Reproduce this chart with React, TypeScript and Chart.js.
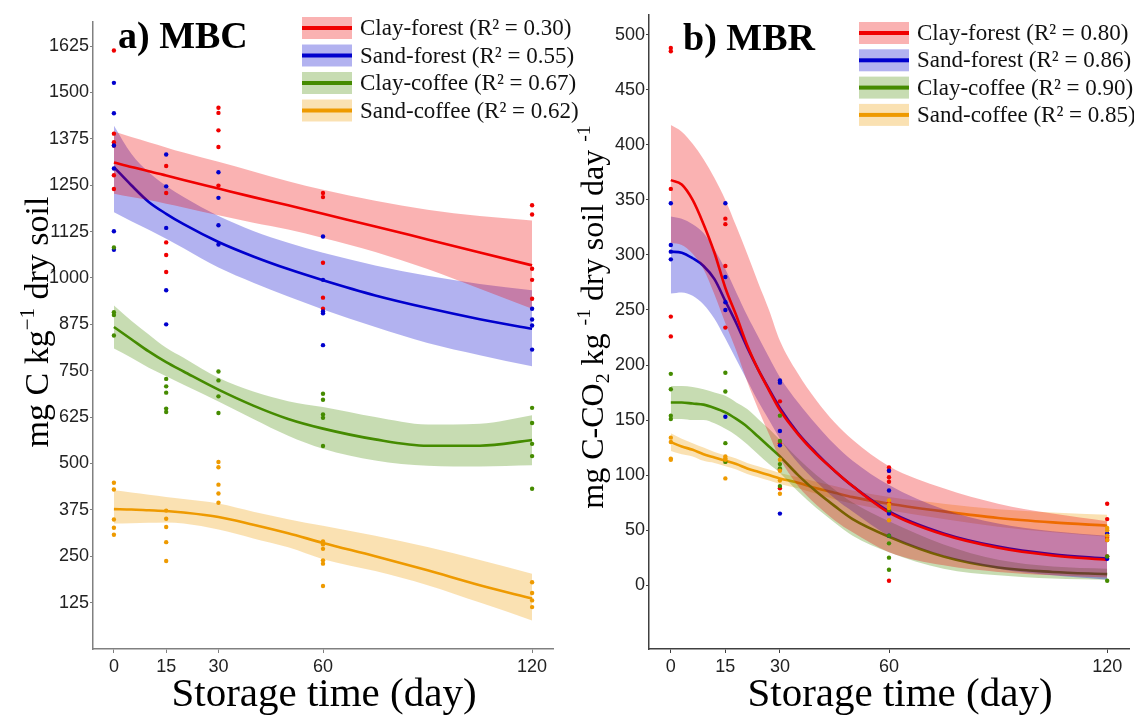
import React, { useEffect, useRef } from "react";
import { Chart, registerables } from "chart.js";

Chart.register(...registerables);

// ---- shared labels and styling ----
const SERIES = ["Clay-forest", "Sand-forest", "Clay-coffee", "Sand-coffee"];
const LINE_COLORS = ["#f00000", "#0000cd", "#458b00", "#ee9a00"];
const BAND_COLORS = [
  "rgba(240,0,0,0.3)",
  "rgba(0,0,205,0.3)",
  "rgba(69,139,0,0.3)",
  "rgba(238,154,0,0.3)",
];
const R2_MBC = ["0.30", "0.55", "0.67", "0.62"];
const R2_MBR = ["0.80", "0.86", "0.90", "0.85"];

const X_TICKS = [0, 15, 30, 60, 120];
const SAMPLE_DAYS = [0, 15, 30, 60, 120];
const MBC_TICKS = [125, 250, 375, 500, 625, 750, 875, 1000, 1125, 1250, 1375, 1500, 1625];
const MBR_TICKS = [0, 50, 100, 150, 200, 250, 300, 350, 400, 450, 500];

// ---- MBC observations (mg C kg-1), grouped by sampling day ----
const mbcClayForest = [
  [1613, 1389, 1366, 1357, 1277, 1240],
  [1302, 1229, 1096, 1062, 1016],
  [1459, 1445, 1398, 1353, 1249],
  [1229, 1218, 1041, 947, 917],
  [1196, 1171, 1025, 995, 944],
];
const mbcSandForest = [
  [1526, 1444, 1357, 1295, 1126, 1076],
  [1333, 1247, 1135, 967, 875],
  [1285, 1216, 1142, 1090],
  [1112, 995, 910, 905, 819],
  [917, 888, 872, 807],
];
const mbcClayCoffee = [
  [1082, 908, 900, 845],
  [728, 708, 691, 648, 639],
  [748, 724, 681, 636],
  [688, 672, 632, 623, 547],
  [650, 609, 553, 520, 432],
];
const mbcSandCoffee = [
  [448, 430, 349, 327, 308],
  [373, 351, 329, 288, 237],
  [504, 490, 443, 419, 394],
  [290, 282, 270, 239, 230, 170],
  [180, 151, 131, 113],
];

// ---- MBC fitted curves and confidence bands ----
const MBC_FIT_DAYS = [0, 5, 10, 15, 20, 30, 40, 50, 60, 75, 90, 105, 120];
const mbcClayForestFit = [1311, 1299, 1288, 1276, 1264, 1241, 1218, 1196, 1173, 1139, 1104, 1069, 1034];
const mbcClayForestHi = [1395, 1380, 1366, 1352, 1338, 1313, 1287, 1261, 1238, 1208, 1184, 1167, 1155];
const mbcClayForestLo = [1227, 1218, 1210, 1200, 1190, 1169, 1149, 1131, 1108, 1070, 1024, 971, 917];
const mbcSandForestFit = [1299, 1250, 1205, 1173, 1145, 1097, 1058, 1024, 994, 953, 919, 889, 863];
const mbcSandForestHi = [1411, 1335, 1285, 1248, 1218, 1167, 1127, 1095, 1068, 1034, 1006, 984, 967];
const mbcSandForestLo = [1177, 1153, 1130, 1106, 1080, 1028, 987, 950, 915, 868, 825, 792, 762];
const mbcClayCoffeeFit = [868, 835, 802, 773, 748, 699, 656, 620, 594, 565, 548, 548, 563];
const mbcClayCoffeeHi = [926, 885, 848, 812, 785, 731, 694, 668, 652, 625, 605, 607, 630];
const mbcClayCoffeeLo = [810, 785, 758, 735, 712, 667, 620, 575, 540, 508, 494, 492, 495];
const mbcSandCoffeeFit = [377, 376, 374, 372, 368, 356, 335, 312, 286, 250, 212, 172, 136];
const mbcSandCoffeeHi = [428, 422, 416, 410, 404, 392, 370, 350, 332, 305, 275, 240, 203];
const mbcSandCoffeeLo = [338, 339, 340, 341, 338, 322, 298, 274, 242, 210, 172, 125, 77];

// ---- MBR observations (mg C-CO2 kg-1 day-1), grouped by sampling day ----
const mbrClayForest = [
  [488, 485, 360, 244, 226],
  [333, 328, 290, 234],
  [167, 129, 105, 88],
  [107, 104, 98, 94, 75, 4],
  [74, 60, 45, 43, 41, 26],
];
const mbrSandForest = [
  [347, 309, 303, 296],
  [347, 280, 257, 250, 153],
  [186, 184, 140, 127, 65],
  [104, 86, 65, 45],
  [47, 24],
];
const mbrClayCoffee = [
  [192, 178, 154, 151],
  [193, 176, 129, 112],
  [154, 131, 110, 106, 90],
  [68, 45, 38, 25, 14],
  [26, 4],
];
const mbrSandCoffee = [
  [134, 130, 115, 114],
  [117, 115, 114, 97],
  [114, 104, 95, 83],
  [77, 73, 70, 59],
  [52, 50, 45, 41],
];

// ---- MBR fitted curves and confidence bands ----
const MBR_FIT_DAYS = [0, 3, 6, 9, 12, 15, 18, 21, 24, 27, 30, 35, 40, 45, 50, 60, 75, 90, 105, 120];
const mbrClayForestFit = [368, 364, 350, 328, 302, 270, 245, 218, 196, 177, 159, 137, 119, 104, 90, 66, 46, 34, 27, 23];
const mbrClayForestHi = [418, 412, 401, 387, 370, 350, 326, 301, 275, 250, 222, 192, 168, 148, 132, 108, 88, 74, 65, 58];
const mbrClayForestLo = [311, 309, 301, 287, 264, 238, 213, 185, 160, 137, 115, 90, 73, 59, 48, 30, 18, 12, 9, 7];
const mbrSandForestFit = [303, 302, 297, 290, 278, 258, 238, 216, 196, 178, 161, 138, 120, 104, 90, 67, 47, 35, 28, 24];
const mbrSandForestHi = [335, 333, 328, 320, 305, 287, 266, 245, 226, 207, 189, 166, 146, 128, 113, 91, 69, 56, 49, 45];
const mbrSandForestLo = [265, 266, 263, 255, 242, 224, 205, 186, 167, 150, 133, 111, 94, 79, 67, 45, 27, 15, 9, 5];
const mbrClayCoffeeFit = [166, 166, 165, 164, 161, 157, 151, 144, 135, 126, 117, 100, 85, 72, 60, 44, 26, 16, 12, 10];
const mbrClayCoffeeHi = [181, 181, 180, 178, 175, 172, 166, 160, 151, 142, 132, 115, 100, 87, 75, 58, 37, 23, 17, 15];
const mbrClayCoffeeLo = [151, 151, 150, 150, 147, 142, 136, 128, 119, 110, 102, 85, 70, 57, 45, 30, 15, 9, 6, 5];
const mbrSandCoffeeFit = [130, 126, 123, 119, 116, 113, 110, 106, 103, 100, 97, 93, 88, 84, 80, 74, 67, 61, 57, 54];
const mbrSandCoffeeHi = [138, 133, 129, 125, 121, 118, 115, 111, 108, 105, 102, 98, 94, 90, 86, 80, 74, 69, 66, 64];
const mbrSandCoffeeLo = [122, 119, 117, 113, 111, 108, 105, 101, 98, 95, 92, 88, 83, 78, 74, 68, 60, 53, 48, 44];

const SERIF = '"Liberation Serif", "Times New Roman", serif';
const SANS = '"Liberation Sans", Arial, sans-serif';

type Seg = { t: string; k?: "sup" | "sub" };

function drawRich(ctx: CanvasRenderingContext2D, segs: Seg[], size: number) {
  const small = size * 0.62;
  const fontFor = (s: Seg) => `${s.k ? small : size}px ${SERIF}`;
  let total = 0;
  for (const s of segs) {
    ctx.font = fontFor(s);
    total += ctx.measureText(s.t).width;
  }
  let x = -total / 2;
  for (const s of segs) {
    ctx.font = fontFor(s);
    const dy = s.k === "sup" ? -size * 0.42 : s.k === "sub" ? size * 0.2 : 0;
    ctx.fillText(s.t, x, dy);
    x += ctx.measureText(s.t).width;
  }
}

type Decor = {
  title: string;
  titleX: number;
  titleY: number;
  r2: string[];
  legendX: number;
  legendY: number;
  legendStep: number;
  yTitle: Seg[];
  yTitleX: number;
  yTitleY: number;
  yTitleSize: number;
  xTitleX: number;
};

function decorPlugin(d: Decor) {
  return {
    id: "panelDecor",
    afterDraw(chart: Chart) {
      const ctx = chart.ctx;
      ctx.save();
      ctx.fillStyle = "#000";
      ctx.textAlign = "left";
      ctx.textBaseline = "alphabetic";
      ctx.font = `bold 38px ${SERIF}`;
      ctx.fillText(d.title, d.titleX, d.titleY);

      // legend: ribbon swatch with the fitted line across it
      d.r2.forEach((r, i) => {
        const cy = d.legendY + i * d.legendStep;
        ctx.fillStyle = BAND_COLORS[i];
        ctx.fillRect(d.legendX, cy - 11, 50, 22);
        ctx.fillStyle = LINE_COLORS[i];
        ctx.fillRect(d.legendX, cy - 2, 50, 4);
        ctx.fillStyle = "#111";
        ctx.font = `23px ${SERIF}`;
        ctx.textBaseline = "middle";
        ctx.fillText(`${SERIES[i]} (R\u00B2 = ${r})`, d.legendX + 58, cy + 1);
      });

      // x axis title
      ctx.fillStyle = "#000";
      ctx.textAlign = "center";
      ctx.textBaseline = "alphabetic";
      ctx.font = `41px ${SERIF}`;
      ctx.fillText("Storage time (day)", d.xTitleX, 706);

      // y axis title, rotated
      ctx.save();
      ctx.translate(d.yTitleX, d.yTitleY);
      ctx.rotate(-Math.PI / 2);
      ctx.textAlign = "left";
      ctx.textBaseline = "alphabetic";
      drawRich(ctx, d.yTitle, d.yTitleSize);
      ctx.restore();
      ctx.restore();
    },
  };
}

function buildDatasets(
  fitDays: number[],
  fits: number[][],
  his: number[][],
  los: number[][],
  obs: number[][][]
) {
  const toXY = (vals: number[]) => vals.map((v, i) => ({ x: fitDays[i], y: v }));
  const ds: any[] = [];
  // ribbons and fitted lines: a higher order is painted earlier,
  // so Sand-coffee ends up at the bottom and Clay-forest on top
  for (let s = 0; s < 4; s++) {
    const base = 2 + s * 2;
    ds.push({
      data: toXY(his[s]),
      borderWidth: 0,
      pointRadius: 0,
      fill: "+1",
      backgroundColor: BAND_COLORS[s],
      cubicInterpolationMode: "monotone",
      order: base + 1,
    });
    ds.push({
      data: toXY(los[s]),
      borderWidth: 0,
      pointRadius: 0,
      fill: false,
      cubicInterpolationMode: "monotone",
      order: base + 1,
    });
    ds.push({
      data: toXY(fits[s]),
      borderColor: LINE_COLORS[s],
      borderWidth: 2.6,
      pointRadius: 0,
      fill: false,
      cubicInterpolationMode: "monotone",
      order: base,
    });
  }
  // observations on top
  for (let s = 3; s >= 0; s--) {
    const pts: { x: number; y: number }[] = [];
    obs[s].forEach((vals, i) => vals.forEach((v) => pts.push({ x: SAMPLE_DAYS[i], y: v })));
    ds.push({
      data: pts,
      showLine: false,
      pointRadius: 2.2,
      pointBorderWidth: 0,
      pointBackgroundColor: LINE_COLORS[s],
      borderColor: LINE_COLORS[s],
      order: 0,
    });
  }
  return ds;
}

function makeOptions(
  yMin: number,
  yMax: number,
  yTicks: number[],
  yWidth: number,
  axisColor: string,
  padTop: number,
  padRight: number
): any {
  return {
    responsive: false,
    animation: false,
    events: [],
    layout: { padding: { top: padTop, right: padRight, left: 0, bottom: 0 } },
    plugins: {
      legend: { display: false },
      tooltip: { enabled: false },
      title: { display: false },
      filler: { propagate: false, drawTime: "beforeDatasetDraw" },
    },
    scales: {
      x: {
        type: "linear",
        min: -6,
        max: 126,
        afterBuildTicks: (sc: any) => {
          sc.ticks = X_TICKS.map((v) => ({ value: v }));
        },
        afterFit: (sc: any) => {
          sc.height = 71;
        },
        grid: { display: true, drawOnChartArea: false, drawTicks: true, tickLength: 4, color: axisColor },
        border: { display: true, color: axisColor, width: 1.5 },
        ticks: {
          color: "#222",
          font: { family: SANS, size: 18 },
          padding: 3,
          maxRotation: 0,
          callback: (v: number) => String(v),
        },
      },
      y: {
        type: "linear",
        min: yMin,
        max: yMax,
        afterBuildTicks: (sc: any) => {
          sc.ticks = yTicks.map((v) => ({ value: v }));
        },
        afterFit: (sc: any) => {
          sc.width = yWidth;
        },
        grid: { display: true, drawOnChartArea: false, drawTicks: true, tickLength: 3, color: axisColor },
        border: { display: true, color: axisColor, width: 1.5 },
        ticks: {
          color: "#222",
          font: { family: SANS, size: 18 },
          padding: 1,
          callback: (v: number) => String(v),
        },
      },
    },
  };
}

export default function App() {
  const leftRef = useRef<HTMLCanvasElement>(null);
  const rightRef = useRef<HTMLCanvasElement>(null);

  useEffect(() => {
    const left = new Chart(leftRef.current!, {
      type: "line",
      data: {
        datasets: buildDatasets(
          MBC_FIT_DAYS,
          [mbcClayForestFit, mbcSandForestFit, mbcClayCoffeeFit, mbcSandCoffeeFit],
          [mbcClayForestHi, mbcSandForestHi, mbcClayCoffeeHi, mbcSandCoffeeHi],
          [mbcClayForestLo, mbcSandForestLo, mbcClayCoffeeLo, mbcSandCoffeeLo],
          [mbcClayForest, mbcSandForest, mbcClayCoffee, mbcSandCoffee]
        ),
      },
      options: makeOptions(0, 1690, MBC_TICKS, 93, "#808080", 22, 29),
      plugins: [
        decorPlugin({
          title: "a) MBC",
          titleX: 118,
          titleY: 48,
          r2: R2_MBC,
          legendX: 302,
          legendY: 28,
          legendStep: 27.5,
          yTitle: [{ t: "mg C kg" }, { t: "\u22121", k: "sup" }, { t: " dry soil" }],
          yTitleX: 48,
          yTitleY: 322,
          yTitleSize: 34,
          xTitleX: 324,
        }) as any,
      ],
    });

    const right = new Chart(rightRef.current!, {
      type: "line",
      data: {
        datasets: buildDatasets(
          MBR_FIT_DAYS,
          [mbrClayForestFit, mbrSandForestFit, mbrClayCoffeeFit, mbrSandCoffeeFit],
          [mbrClayForestHi, mbrSandForestHi, mbrClayCoffeeHi, mbrSandCoffeeHi],
          [mbrClayForestLo, mbrSandForestLo, mbrClayCoffeeLo, mbrSandCoffeeLo],
          [mbrClayForest, mbrSandForest, mbrClayCoffee, mbrSandCoffee]
        ),
      },
      options: makeOptions(-58, 518, MBR_TICKS, 79, "#404040", 15, 5),
      plugins: [
        decorPlugin({
          title: "b) MBR",
          titleX: 113,
          titleY: 50,
          r2: R2_MBR,
          legendX: 289,
          legendY: 33,
          legendStep: 27.3,
          yTitle: [
            { t: "mg C-CO" },
            { t: "2", k: "sub" },
            { t: " kg " },
            { t: "-1", k: "sup" },
            { t: " dry soil day " },
            { t: "-1", k: "sup" },
          ],
          yTitleX: 33,
          yTitleY: 317,
          yTitleSize: 32,
          xTitleX: 330,
        }) as any,
      ],
    });

    return () => {
      left.destroy();
      right.destroy();
    };
  }, []);

  return (
    <div style={{ position: "fixed", left: 0, top: 0, width: 1134, height: 720, background: "#fff" }}>
      <canvas ref={leftRef} width={582} height={720} style={{ position: "absolute", left: 0, top: 0 }} />
      <canvas ref={rightRef} width={564} height={720} style={{ position: "absolute", left: 570, top: 0 }} />
    </div>
  );
}
